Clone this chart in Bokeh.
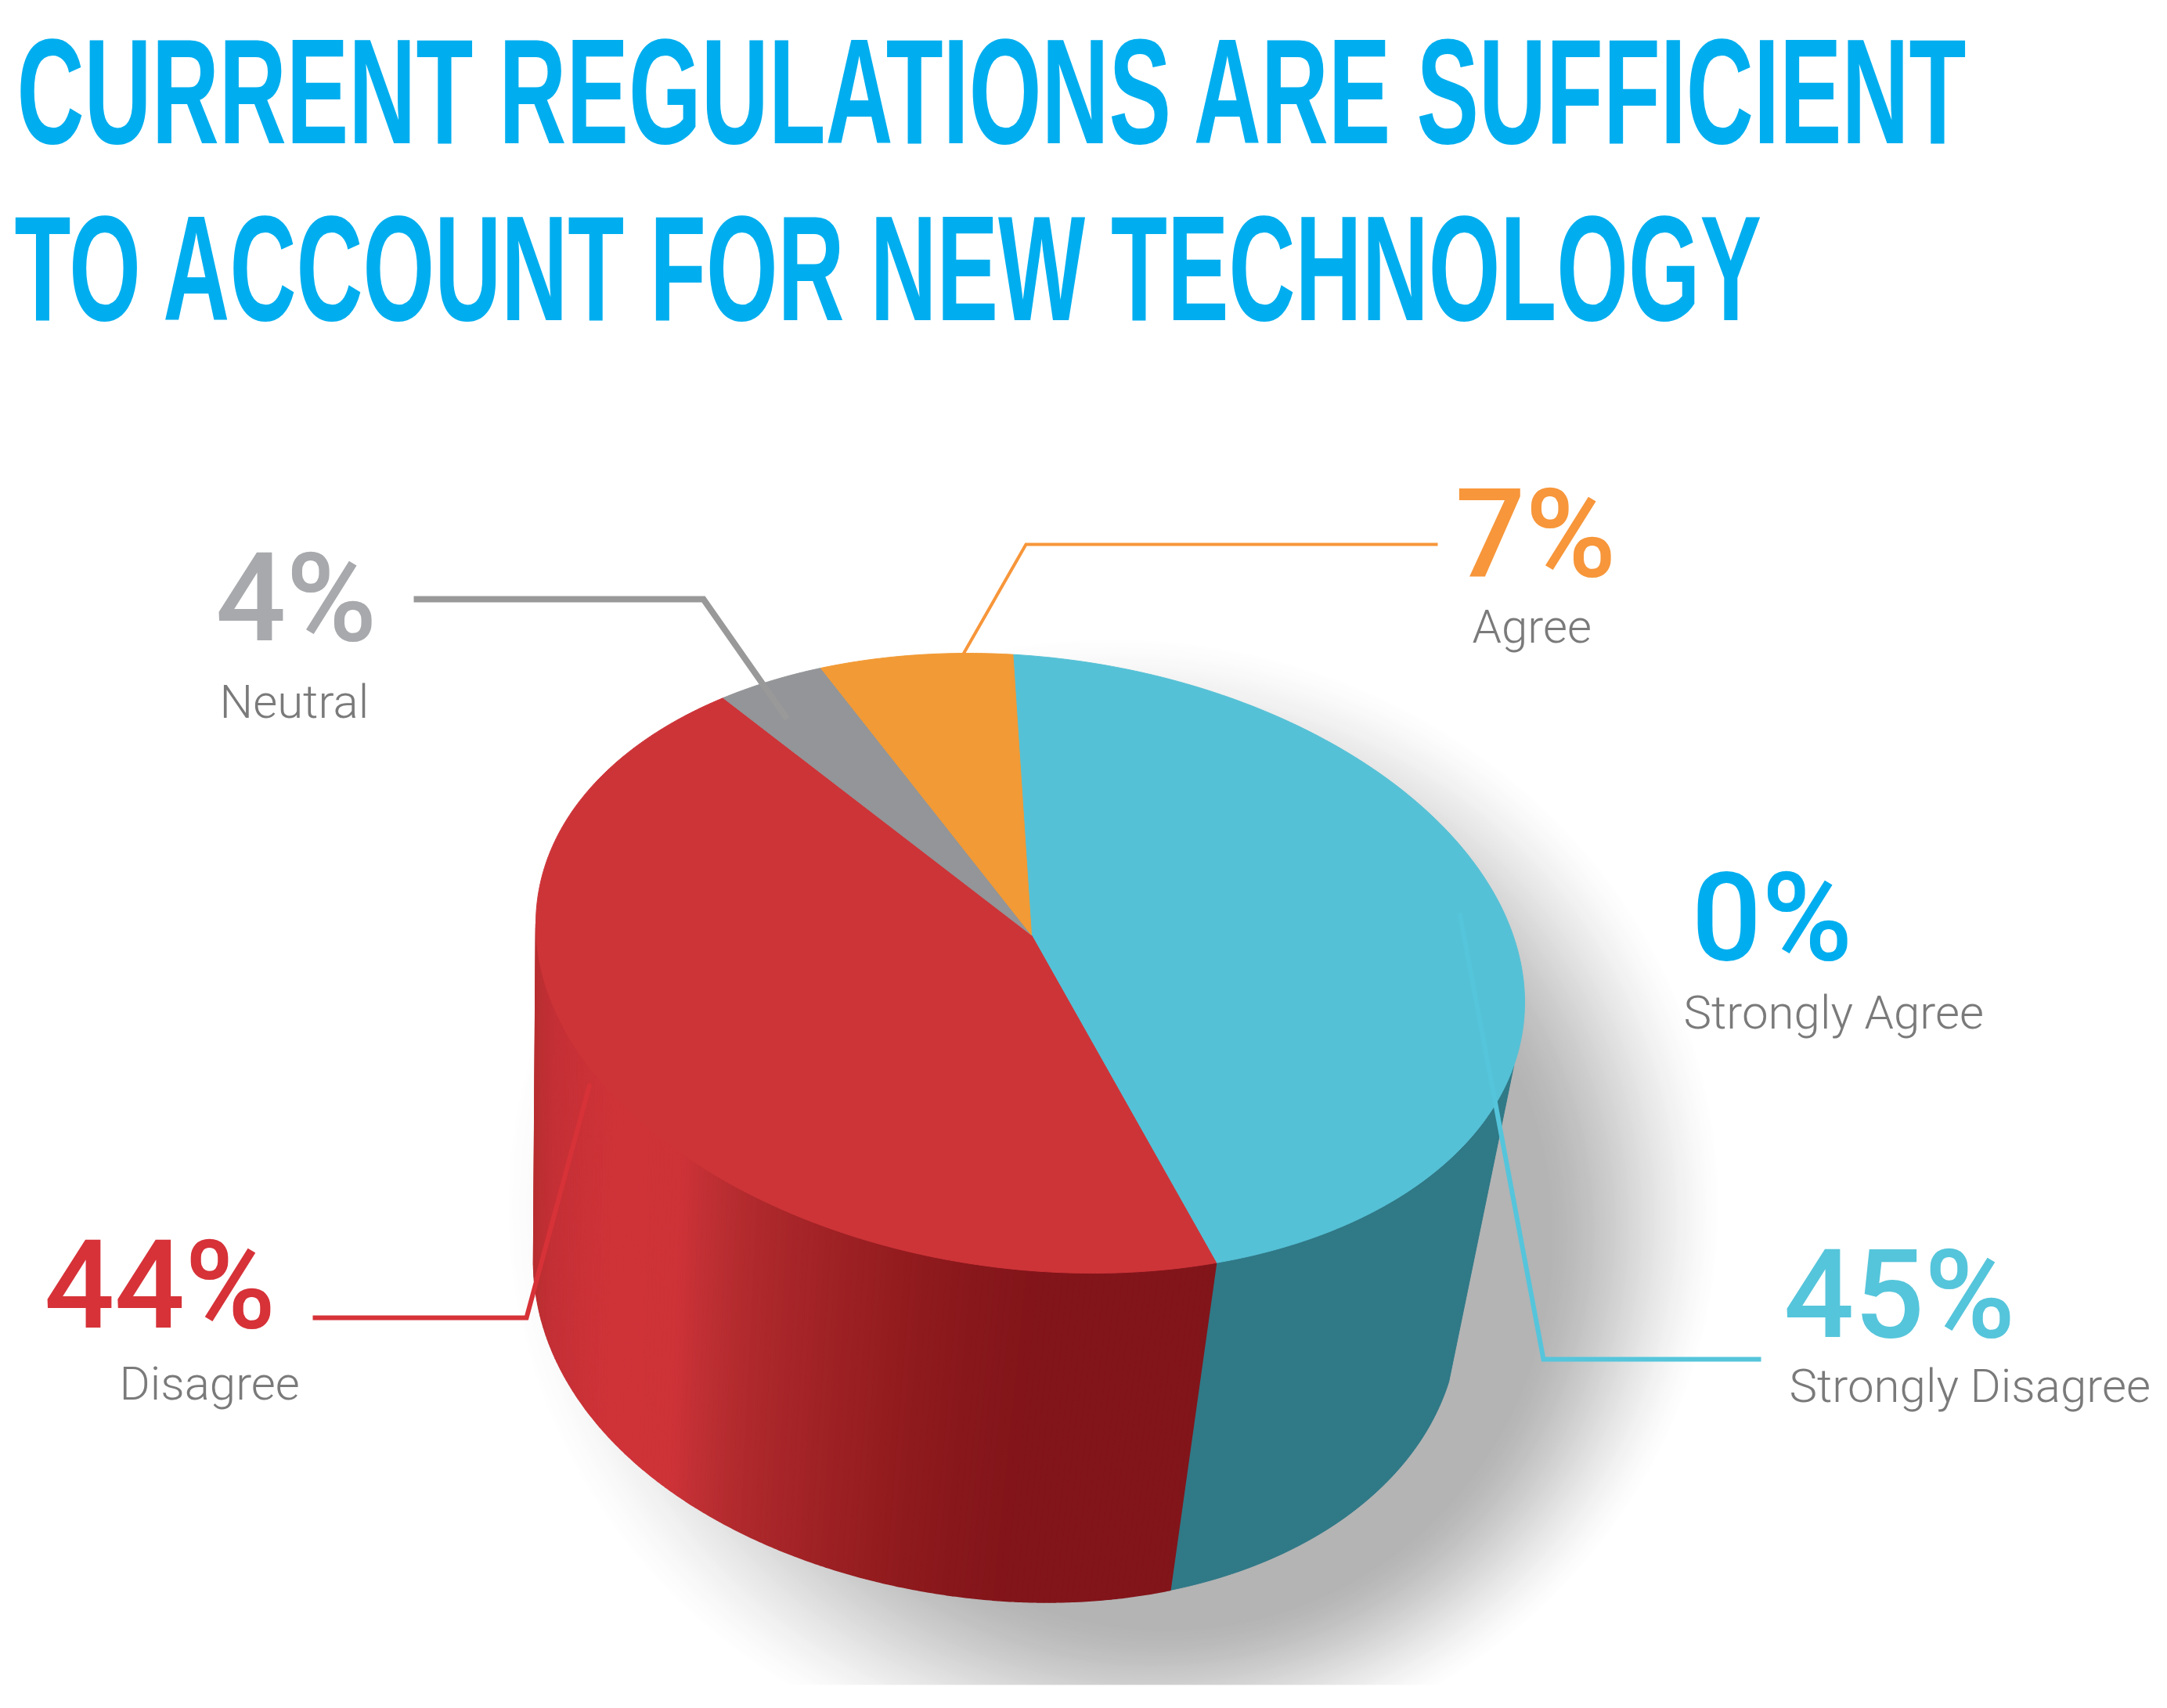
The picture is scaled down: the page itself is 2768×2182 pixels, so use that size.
import numpy as np
from bokeh.core.properties import value
from bokeh.embed import file_html
from bokeh.io import curdoc
from bokeh.models import CustomJS, Range1d
from bokeh.plotting import figure
from bokeh.resources import INLINE

# ---- data ----
title_lines = ["CURRENT REGULATIONS ARE SUFFICIENT", "TO ACCOUNT FOR NEW TECHNOLOGY"]
categories = ["Strongly Agree", "Strongly Disagree", "Disagree", "Neutral", "Agree"]
percent = [0, 45, 44, 4, 7]

# ---- styles ----
top_colors = {"Strongly Disagree": "#55C1D6", "Disagree": "#CD3438", "Neutral": "#939598", "Agree": "#F29A35"}
number_colors = {"Strongly Agree": "#00AEEF", "Strongly Disagree": "#55C5DB", "Disagree": "#D63238",
                 "Neutral": "#A7A9AC", "Agree": "#F7963A"}
# layout: number x, number baseline, label x, label baseline
label_layout = {"Strongly Agree": (2160, 1228, 2150, 1313), "Strongly Disagree": (2278, 1710, 2285, 1790),
                "Disagree": (56, 1698, 152, 1787), "Neutral": (275, 820, 280, 916), "Agree": (1858, 738, 1880, 820)}
leaders = {"Strongly Disagree": ([2249, 1971, 1864], [1736, 1736, 1166], 6),
           "Disagree": ([399, 672, 753], [1683, 1683, 1384], 6),
           "Neutral": ([528, 898, 1005], [765, 765, 918], 8),
           "Agree": ([1836, 1310, 1230], [695, 695, 835], 4)}
wall_x = [681, 705, 780, 860, 900, 971, 1059, 1150, 1235, 1310, 1600]
wall_rgb = [(184, 46, 48), (196, 48, 54), (207, 51, 56), (206, 51, 56), (190, 47, 51), (172, 40, 43),
            (158, 33, 36), (145, 27, 30), (135, 23, 27), (130, 21, 26), (130, 21, 26)]
BASE_BIG = 0.36    # how far below the asked y Bokeh's text baseline falls, per font px
BASE_SMALL = 0.33

W, H = 2752, 2166
p = figure(width=W, height=H, output_backend="svg", toolbar_location=None, min_border=0,
           x_range=Range1d(0, W), y_range=Range1d(H, 0))
p.axis.visible = False
p.grid.visible = False
p.outline_line_color = None
p.background_fill_color = "white"
p.border_fill_color = "white"


def top(t):
    return 1315.5 + 631.5 * np.cos(t), 1230 + 50 * np.cos(t) - 392.8 * np.sin(t)


def bottom(t):
    c = np.cos(t)
    return 1272 + 591 * c, 1636 + 45 * c - 408 * np.sin(t) + 20 * np.where(c < 0, c * c, 0)


def persp(theta):
    # perspective of the disc: its centre is seen above the ellipse's centre
    a = 0.046
    z = np.exp(1j * theta)
    return np.angle((z + 1j * a) / (1 - 1j * a * z))


# ---- shadow: nested soft ellipses ----
n = 80
xs, ys, cols = [], [], []
phi = np.linspace(0, 2 * np.pi, 160)
for s in np.linspace(1, 0, n):
    cx, cy = 1490 + (1420 - 1490) * s, 1580 + (1540 - 1580) * s
    a, b = 490 + (780 - 490) * s, 500 + (730 - 500) * s
    xs.append(cx + a * np.cos(phi))
    ys.append(cy + b * np.sin(phi))
    e = 0.5 * s + 0.5 * s * s * (3 - 2 * s)
    g = int(round(180 + (255 - 180) * e))
    cols.append(f"#{g:02x}{g:02x}{g:02x}")
p.patches(xs, ys, fill_color=cols, line_color=None)
# the shadow is cut off below
p.quad(left=[0], right=[W], top=[2152], bottom=[H], fill_color="white", line_color=None)

# ---- slices ----
start = np.deg2rad(92.2)
total = sum(percent)
edges = {}
ang = start
for c, v in zip(categories, percent):
    next_ang = ang - 2 * np.pi * v / total
    edges[c] = (ang, next_ang)
    ang = next_ang

# walls
t_teal_end = persp(edges["Strongly Disagree"][1])
tt = np.linspace(np.deg2rad(-12), t_teal_end, 60)
tx, ty = top(tt)
bx, by = bottom(tt)
p.patch(np.r_[tx, bx[::-1]], np.r_[ty, by[::-1]], fill_color="#307987", line_color="#307987", line_width=1)

red_t = np.linspace(t_teal_end, -np.pi, 160)
xs, ys, cols = [], [], []
for t0, t1 in zip(red_t[:-1], red_t[1:]):
    tm = np.linspace(t0, t1, 3)
    ax, ay = top(tm)
    cx, cy = bottom(tm)
    xs.append(np.r_[ax, cx[::-1]])
    ys.append(np.r_[ay, cy[::-1]])
    mid = (ax[1] + cx[1]) / 2
    rgb = [int(round(np.interp(mid, wall_x, [c[i] for c in wall_rgb]))) for i in range(3)]
    cols.append("#%02x%02x%02x" % tuple(rgb))
p.patches(xs, ys, fill_color=cols, line_color=cols, line_width=1.5)

# top face
apex_x, apex_y = 1317, 1194
for c, v in zip(categories, percent):
    if v == 0:
        continue
    th = np.linspace(edges[c][0], edges[c][1], max(8, int(v * 6)))
    ex, ey = top(persp(th))
    p.patch(np.r_[apex_x, ex], np.r_[apex_y, ey], fill_color=top_colors[c], line_color=top_colors[c], line_width=1)

# leader lines
for c, (lx, ly, lw) in leaders.items():
    col = "#999999" if c == "Neutral" else number_colors[c]
    p.line(lx, ly, line_color=col, line_width=lw, line_join="miter")

# ---- texts ----
TS = 150
TALL = 192 / TS
for line, x, y in zip(title_lines, [21, 18], [184, 411]):
    p.text([x], [y - BASE_BIG * TS], text=[line], text_font=value("Liberation Sans"), text_font_style="bold",
           text_font_size=f"{TS}px", text_color="#00AEEF", text_baseline="alphabetic")

for c, v in zip(categories, percent):
    nx, ny, lx, ly = label_layout[c]
    p.text([nx], [ny - BASE_BIG * 158], text=[f"{v}%"], text_font=value("Roboto Medium"), text_font_size="158px",
           text_color=number_colors[c], text_baseline="alphabetic")
    p.text([lx], [ly - BASE_SMALL * 60], text=[c], text_font=value("Roboto Light"), text_font_size="60px",
           text_color="#7A7A7A", text_baseline="alphabetic")

# the title's typeface is a tall condensed one that is not installed: fit the real text to the title's size
squeeze = CustomJS(args=dict(widths={title_lines[0]: 2490, title_lines[1]: 2232}, tall=TALL), code="""
function walk(root, out) {
  root.querySelectorAll('*').forEach(e => {
    if (e.tagName.toLowerCase() === 'text') out.push(e);
    if (e.shadowRoot) walk(e.shadowRoot, out);
  });
}
function run() {
  const out = []; walk(document, out);
  const w = new Map(Object.entries(widths));
  for (const t of out) {
    const target = w.get(t.textContent);
    if (target === undefined || t.dataset.sq) continue;
    const x = t.getAttribute('x') || 0, y = t.getAttribute('y') || 0;
    const sx = target / t.getBBox().width;
    const old = t.getAttribute('transform') || '';
    t.setAttribute('transform', `${old} translate(${x},${y}) scale(${sx},${tall}) translate(${-x},${-y})`);
    t.dataset.sq = '1';
  }
}
run(); setTimeout(run, 100); setTimeout(run, 500); setTimeout(run, 1500);
""")
doc = curdoc()
doc.add_root(p)
doc.js_on_event("document_ready", squeeze)

open("out.html", "w").write(file_html(p, INLINE))
